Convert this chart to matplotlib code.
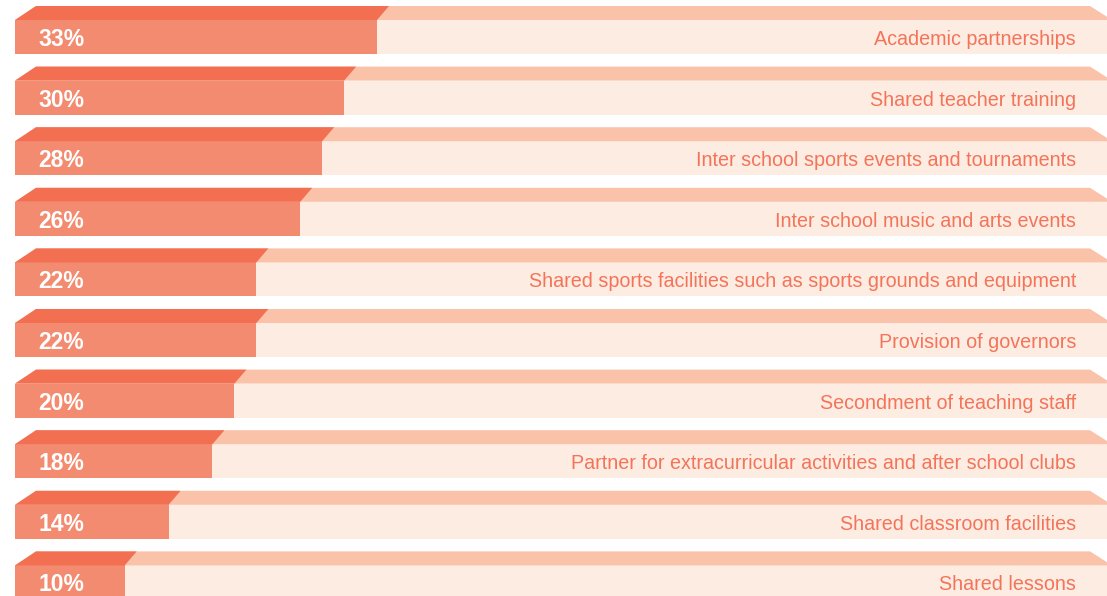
import matplotlib
matplotlib.use("Agg")
import matplotlib.pyplot as plt
from matplotlib.patches import Polygon

categories = [
    "Academic partnerships",
    "Shared teacher training",
    "Inter school sports events and tournaments",
    "Inter school music and arts events",
    "Shared sports facilities such as sports grounds and equipment",
    "Provision of governors",
    "Secondment of teaching staff",
    "Partner for extracurricular activities and after school clubs",
    "Shared classroom facilities",
    "Shared lessons",
]
values = [33, 30, 28, 26, 22, 22, 20, 18, 14, 10]
pct_labels = [f"{v}%" for v in values]
total = 100

# colours
fill_front = "#F38B70"
fill_top = "#F26F52"
bg_front = "#FDECE2"
bg_top = "#FAC2A8"
label_col = "#F4745A"

W, H = 1107, 596
fig = plt.figure(figsize=(W / 100, H / 100), dpi=100)
ax = fig.add_axes([0, 0, 1, 1])
px_per_unit = 10.97
x0 = -15 / px_per_unit
ax.set_xlim(x0, x0 + W / px_per_unit)
pitch = 60.6
ax.set_ylim((H - 37) / pitch, -37 / pitch)
ax.axis("off")

front_h = 34 / pitch
top_h = 14 / pitch
dl = 21 / px_per_unit      # left slant of the top face
dr_fill = 12 / px_per_unit  # right slant of the filled part
dr_bg = -22 / px_per_unit   # right slant of the background bar

for i, (cat, v, lab) in enumerate(zip(categories, values, pct_labels)):
    yt = i - front_h / 2   # top of front face
    yb = i + front_h / 2
    yk = yt - top_h        # back edge of top face
    # background front & top
    ax.add_patch(Polygon([(0, yt), (total, yt), (total, yb), (0, yb)],
                         closed=True, facecolor=bg_front, edgecolor="none"))
    ax.add_patch(Polygon([(0, yt), (dl, yk), (total + dr_bg, yk), (total, yt)],
                         closed=True, facecolor=bg_top, edgecolor="none"))
    # filled part
    ax.add_patch(Polygon([(0, yt), (v, yt), (v, yb), (0, yb)],
                         closed=True, facecolor=fill_front, edgecolor="none"))
    ax.add_patch(Polygon([(0, yt), (dl, yk), (v + dr_fill, yk), (v, yt)],
                         closed=True, facecolor=fill_top, edgecolor="none"))
    ax.text(23 / px_per_unit, i + 0.04, lab, ha="left", va="center",
            color="white", fontsize=16.5, fontweight="bold",
            family="Liberation Sans")
    ax.text((1076 - 15) / px_per_unit, i + 0.04, cat, ha="right", va="center",
            color=label_col, fontsize=14.2, family="Liberation Sans")

fig.savefig("out.png", dpi=100)
